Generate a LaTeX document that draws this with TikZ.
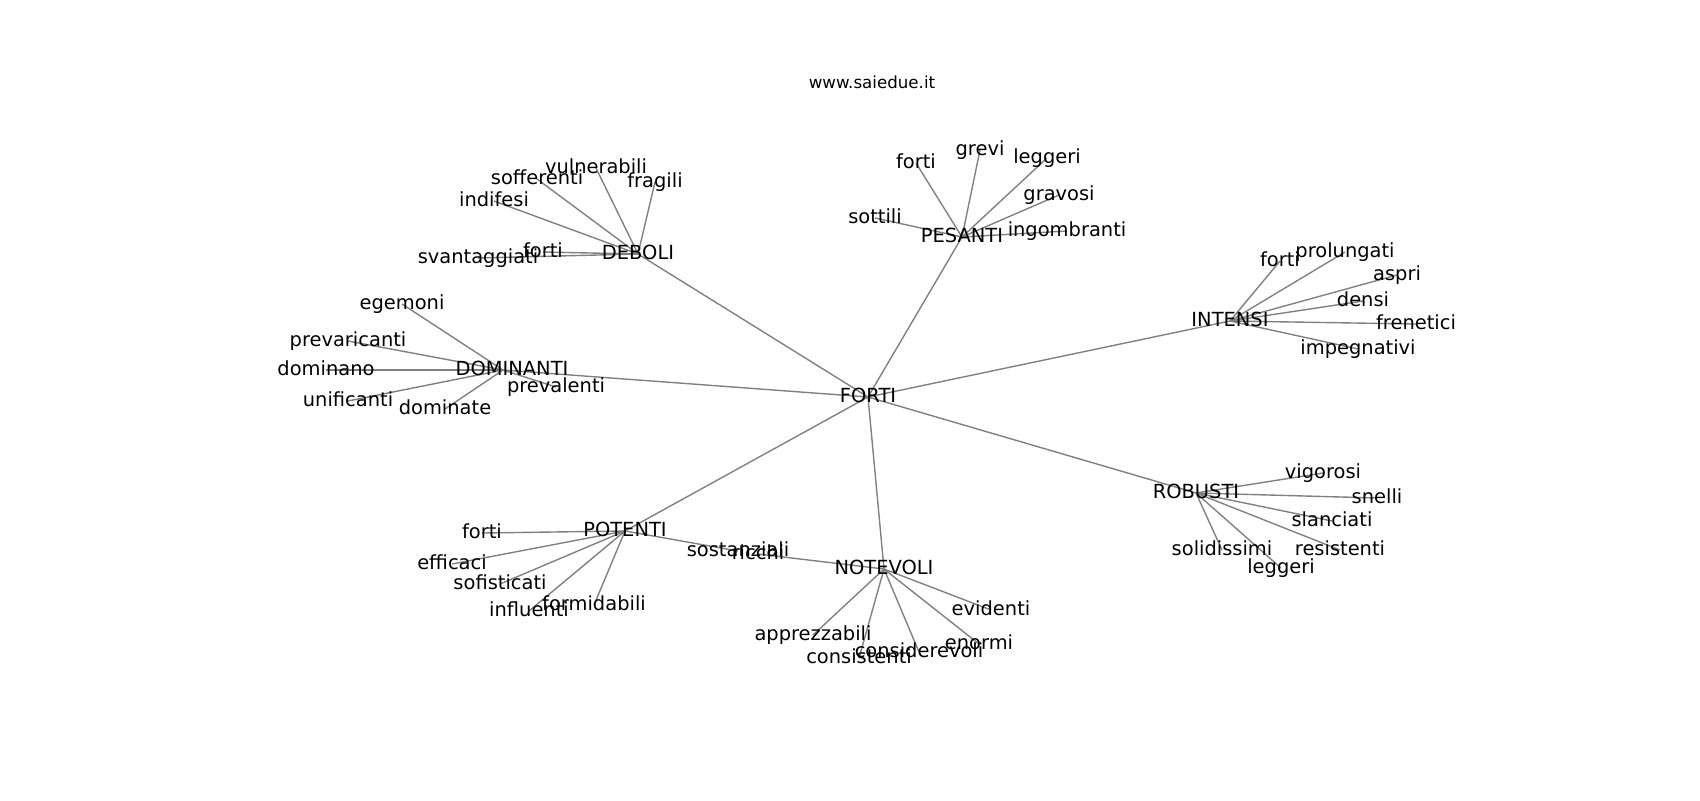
\documentclass[tikz,border=0pt]{standalone}
\usepackage{fontspec}
\setmainfont{DejaVu Sans}
\usetikzlibrary{backgrounds}
\begin{document}
\begin{tikzpicture}[x=0.72pt,y=-0.72pt,
  lbl/.style={font=\fontsize{14}{16}\selectfont, inner sep=0pt, text height=10.64pt, text depth=3.36pt, anchor=center},
  ttl/.style={font=\fontsize{12}{14}\selectfont, inner sep=0pt, text height=9.12pt, text depth=2.88pt, anchor=center},
  link/.style={draw=black!50, line width=1pt}]
\useasboundingbox (0,0) rectangle (1700,800);
\node[ttl] (title) at (872,84) {www.saiedue.it};
% hubs
\node[lbl] (forti) at (868,397) {FORTI};
\node[lbl] (deboli) at (638,254) {DEBOLI};
\node[lbl] (pesanti) at (962,237) {PESANTI};
\node[lbl] (intensi) at (1230,321) {INTENSI};
\coordinate (dominanti) at (503,370);
\node[lbl] (dominanti-txt) at (512,370) {DOMINANTI};
\node[lbl] (potenti) at (625,531) {POTENTI};
\node[lbl] (notevoli) at (884,569) {NOTEVOLI};
\node[lbl] (robusti) at (1196,493) {ROBUSTI};
% DEBOLI leaves
\node[lbl] (d-vuln) at (596,168) {vulnerabili};
\node[lbl] (d-frag) at (655,182) {fragili};
\node[lbl] (d-soff) at (537,179) {sofferenti};
\node[lbl] (d-indi) at (494,201) {indifesi};
\node[lbl] (d-fort) at (543,252) {forti};
\node[lbl] (d-svan) at (478,258) {svantaggiati};
% PESANTI leaves
\node[lbl] (p-fort) at (916,163) {forti};
\node[lbl] (p-grev) at (980,150) {grevi};
\node[lbl] (p-legg) at (1047,158) {leggeri};
\node[lbl] (p-grav) at (1059,195) {gravosi};
\node[lbl] (p-ingo) at (1067,231) {ingombranti};
\node[lbl] (p-sott) at (875,218) {sottili};
% INTENSI leaves
\node[lbl] (i-fort) at (1280,261) {forti};
\node[lbl] (i-prol) at (1345,252) {prolungati};
\node[lbl] (i-aspr) at (1397,275) {aspri};
\node[lbl] (i-dens) at (1363,301) {densi};
\node[lbl] (i-fren) at (1416,324) {frenetici};
\node[lbl] (i-impe) at (1358,349) {impegnativi};
% DOMINANTI leaves
\node[lbl] (m-egem) at (402,304) {egemoni};
\node[lbl] (m-prev) at (348,341) {prevaricanti};
\node[lbl] (m-domi) at (326,370) {dominano};
\node[lbl] (m-unif) at (348,401) {unificanti};
\node[lbl] (m-domt) at (445,409) {dominate};
\node[lbl] (m-pval) at (556,387) {prevalenti};
% POTENTI leaves
\node[lbl] (t-fort) at (482,533) {forti};
\node[lbl] (t-effi) at (452,564) {efficaci};
\node[lbl] (t-sofi) at (500,584) {sofisticati};
\node[lbl] (t-infl) at (529,611) {influenti};
\node[lbl] (t-form) at (594,605) {formidabili};
\node[lbl] (t-sost) at (738,551) {sostanziali};
% NOTEVOLI leaves
\node[lbl] (n-ricc) at (758,554) {ricchi};
\node[lbl] (n-evid) at (991,610) {evidenti};
\node[lbl] (n-appr) at (813,635) {apprezzabili};
\node[lbl] (n-cons) at (859,658) {consistenti};
\node[lbl] (n-codv) at (919,652) {considerevoli};
\node[lbl] (n-enor) at (979,644) {enormi};
% ROBUSTI leaves
\node[lbl] (r-vigo) at (1323,473) {vigorosi};
\node[lbl] (r-snel) at (1377,498) {snelli};
\node[lbl] (r-slan) at (1332,521) {slanciati};
\node[lbl] (r-resi) at (1340,550) {resistenti};
\node[lbl] (r-soli) at (1222,550) {solidissimi};
\node[lbl] (r-legg) at (1281,568) {leggeri};
\begin{scope}[on background layer]
\foreach \a/\b in {forti/deboli, forti/pesanti, forti/intensi,
  forti/potenti, forti/notevoli, forti/robusti,
  deboli/d-vuln, deboli/d-frag, deboli/d-soff, deboli/d-indi, deboli/d-fort, deboli/d-svan,
  pesanti/p-fort, pesanti/p-grev, pesanti/p-legg, pesanti/p-grav, pesanti/p-ingo, pesanti/p-sott,
  intensi/i-fort, intensi/i-prol, intensi/i-aspr, intensi/i-dens, intensi/i-fren, intensi/i-impe,
  potenti/t-fort, potenti/t-effi, potenti/t-sofi, potenti/t-infl, potenti/t-form, potenti/t-sost,
  notevoli/n-ricc, notevoli/n-evid, notevoli/n-appr, notevoli/n-cons, notevoli/n-codv, notevoli/n-enor,
  robusti/r-vigo, robusti/r-snel, robusti/r-slan, robusti/r-resi, robusti/r-soli, robusti/r-legg}
  \draw[link] (\a.center) -- (\b.center);
\foreach \b in {m-egem, m-prev, m-domi, m-unif, m-domt, m-pval}
  \draw[link] (dominanti) -- (\b.center);
\draw[link] (forti.center) -- (dominanti);
\end{scope}
\end{tikzpicture}
\end{document}
